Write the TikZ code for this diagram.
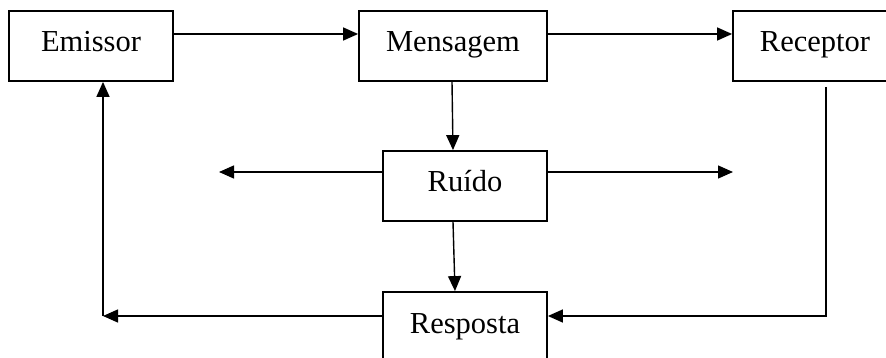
\documentclass[tikz,border=0pt]{standalone}
\usepackage{fontspec}
\setmainfont{Liberation Serif}
\usetikzlibrary{arrows.meta, positioning}

\begin{document}
\begin{tikzpicture}[
        x=1pt, y=-1pt,
        box/.style={rectangle, draw, line width=1.8pt, inner sep=0pt, text height=41pt, text depth=29pt, minimum width=164pt, font=\fontsize{30.5}{36}\selectfont},
        arr/.style={-{Triangle[length=15pt, width=13pt]}, line width=1.4pt}
    ]
        \useasboundingbox (0,0) rectangle (886,358);
        \clip (0,0) rectangle (886,358);

        \node[box] (emissor) at (91,46) {Emissor};
        \node[box, minimum width=188pt] (mensagem) at (453,46) {Mensagem};
        \node[box] (receptor) at (815,46) {Receptor};
        \node[box] (ruido) at (465,186) {Ruído};
        \node[box] (resposta) at (465,327) {Resposta};

        \coordinate (ruidoL) at (219,172);
        \coordinate (ruidoR) at (733,172);
        \coordinate (recTop) at (826,87);
        \coordinate (recBot) at (826,316);
        \coordinate (canto) at (103,316);

        \draw[arr] ([yshift=12pt]emissor.east) -- ([yshift=12pt]mensagem.west);
        \draw[arr] ([yshift=12pt]mensagem.east) -- ([yshift=12pt]receptor.west);
        \draw[arr] ([xshift=-1pt]mensagem.south) -- ([xshift=-12pt]ruido.north);
        \draw[arr] ([xshift=-12pt]ruido.south) -- ([xshift=-10pt]resposta.north);
        \draw[arr] ([yshift=14pt]ruido.west) -- (ruidoL);
        \draw[arr] ([yshift=14pt]ruido.east) -- (ruidoR);
        \draw[arr] (recTop) -- (recBot) -- ([yshift=11pt]resposta.east);
        \draw[arr] ([yshift=11pt]resposta.west) -- (canto);
        \draw[arr] (canto) -- ([xshift=12pt]emissor.south);
    \end{tikzpicture}
\end{document}
